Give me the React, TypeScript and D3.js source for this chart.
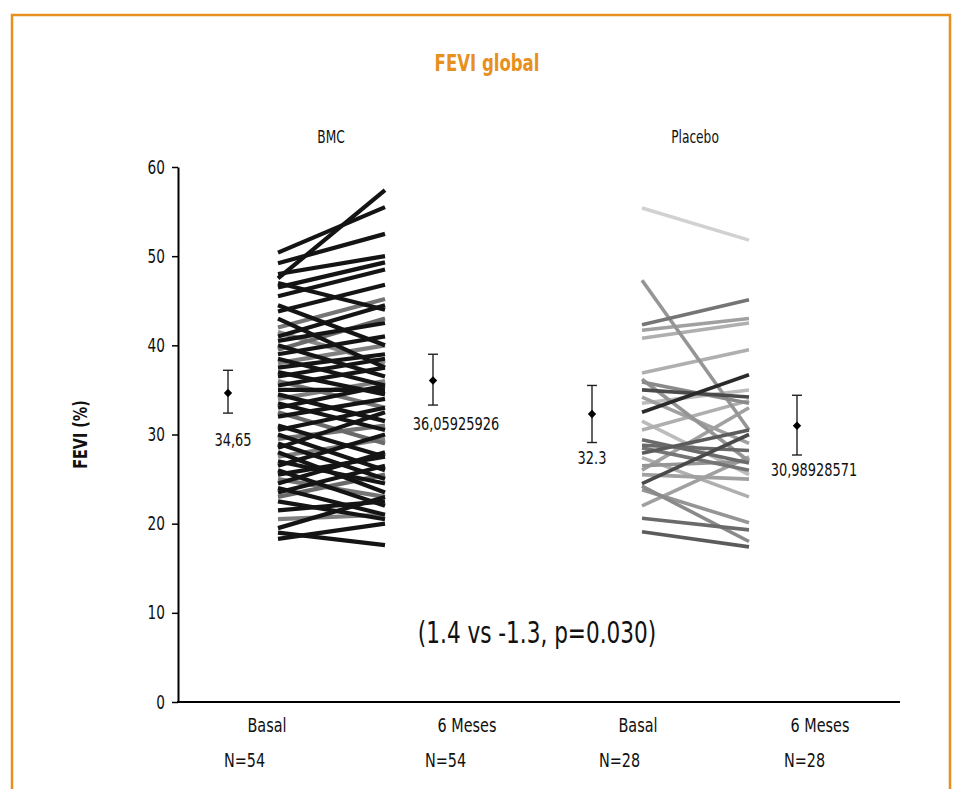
import React, { useEffect, useRef } from "react";
import * as d3 from "d3";

// FEVI (%) per patient, basal and at 6 months
const bmcBasal = [
  50.4, 47.5, 49.2, 48.0, 46.5, 47.0, 45.5, 44.5, 43.8, 43.0,
  42.0, 41.5, 41.0, 40.5, 40.0, 39.5, 39.0, 38.5, 38.0, 37.5,
  37.0, 36.5, 36.0, 35.5, 35.0, 34.5, 34.0, 33.5, 33.0, 32.5,
  32.0, 31.0, 30.5, 30.0, 29.5, 29.0, 28.5, 28.0, 27.5, 27.0,
  26.5, 26.0, 25.5, 25.0, 24.5, 24.0, 23.5, 23.0, 22.5, 21.5,
  20.5, 19.5, 19.0, 18.3,
];
const bmcSixMonths = [
  55.5, 57.4, 52.5, 50.0, 49.3, 44.0, 48.5, 40.0, 46.8, 37.5,
  45.2, 38.0, 44.5, 42.5, 36.5, 43.0, 41.0, 35.5, 40.0, 39.0,
  34.5, 38.5, 33.0, 37.5, 35.0, 31.5, 36.0, 30.5, 35.5, 29.0,
  34.0, 27.5, 33.0, 26.0, 31.0, 25.0, 32.5, 23.5, 29.5, 24.5,
  30.0, 22.0, 27.5, 23.0, 28.0, 21.0, 26.5, 25.5, 20.5, 22.5,
  21.0, 23.0, 17.6, 20.0,
];
const placeboBasal = [
  55.4, 47.3, 42.3, 41.7, 40.8, 36.9, 32.5, 35.9, 35.0, 34.2,
  36.2, 33.5, 30.5, 29.4, 27.9, 28.5, 27.4, 26.5, 25.5, 24.5,
  23.8, 24.2, 22.0, 20.6, 19.1, 31.5, 28.8, 26.0,
];
const placeboSixMonths = [
  51.8, 30.5, 45.1, 43.0, 42.5, 39.5, 36.7, 33.5, 34.2, 29.0,
  27.0, 35.0, 33.8, 26.8, 30.5, 26.0, 23.0, 27.0, 25.0, 30.0,
  20.1, 18.0, 27.5, 19.3, 17.4, 25.5, 28.2, 33.0,
];

// mean and error bar limits: [basal, 6 meses]
const bmcMeans = [34.65, 36.05925926];
const bmcUpper = [37.2, 39.0];
const bmcLower = [32.4, 33.3];
const bmcMeanLabels = ["34,65", "36,05925926"];
const placeboMeans = [32.3, 30.98928571];
const placeboUpper = [35.5, 34.4];
const placeboLower = [29.1, 27.7];
const placeboMeanLabels = ["32.3", "30,98928571"];

const groupNames = ["BMC", "Placebo"];
const timeLabels = ["Basal", "6 Meses"];
const nLabels = ["N=54", "N=54", "N=28", "N=28"];
const yTicks = [0, 10, 20, 30, 40, 50, 60];
const pValueText = "(1.4 vs -1.3, p=0.030)";

// grey level of each patient line (0 = black)
const bmcShades = [
  0, 0, 0, 0, 0, 0, 0, 0, 0, 0,
  0.45, 0.55, 0, 0, 0, 0.4, 0, 0, 0.5, 0,
  0, 0, 0.45, 0, 0, 0, 0.5, 0, 0, 0.4,
  0, 0, 0, 0, 0.45, 0, 0, 0, 0.5, 0,
  0, 0, 0, 0.45, 0, 0, 0, 0.4, 0, 0,
  0.5, 0, 0, 0,
];
const placeboShades = [
  0.88, 0.6, 0.45, 0.65, 0.72, 0.72, 0.1, 0.55, 0.25, 0.65,
  0.6, 0.78, 0.72, 0.4, 0.33, 0.45, 0.72, 0.6, 0.65, 0.25,
  0.6, 0.55, 0.65, 0.4, 0.33, 0.78, 0.4, 0.65,
];

const FONT = "'DejaVu Sans Condensed', 'Liberation Sans Narrow', sans-serif";
const ORANGE = "#e8901e";
const SQUEEZE = 0.8; // the original uses a condensed face

export default function App() {
  const ref = useRef<SVGSVGElement | null>(null);

  useEffect(() => {
    const svg = d3.select(ref.current);
    svg.selectAll("*").remove();

    const height = 789;
    const x0 = 178, x1 = 900;
    const y = d3.scaleLinear().domain([0, 60]).range([702, 167]);

    // narrow text: drawn at (x, y) then squeezed horizontally
    const label = (x: number, yy: number, str: string, size: number, anchor = "middle", rotate = 0) => {
      const t = svg.append("text")
        .attr("transform", "translate(" + x + "," + yy + ") rotate(" + rotate + ") scale(" + SQUEEZE + ",1)")
        .attr("text-anchor", anchor)
        .attr("font-family", FONT)
        .attr("font-size", size)
        .attr("fill", "#111")
        .text(str);
      return t;
    };

    // frame
    svg.append("rect")
      .attr("x", 12).attr("y", 15)
      .attr("width", 938).attr("height", height)
      .attr("fill", "none")
      .attr("stroke", ORANGE)
      .attr("stroke-width", 2.5);

    label(487, 71, "FEVI global", 23).attr("font-weight", "bold").attr("fill", ORANGE);

    // y axis
    const axis = svg.append("g")
      .attr("transform", "translate(" + x0 + ",0)")
      .call(d3.axisLeft(y).tickValues(yTicks).tickSize(6).tickSizeOuter(0).tickPadding(7).tickFormat(d3.format("d")));
    axis.select(".domain").attr("stroke", "#000").attr("stroke-width", 2);
    axis.selectAll(".tick line").attr("stroke", "#000").attr("stroke-width", 1.5);
    axis.selectAll(".tick text").remove();
    yTicks.forEach(v => label(x0 - 13, y(v) + 6.5, String(v), 19, "end"));

    svg.append("line")
      .attr("x1", x0 - 1).attr("x2", x1)
      .attr("y1", y(0)).attr("y2", y(0))
      .attr("stroke", "#000").attr("stroke-width", 2);

    label(87, y(30), "FEVI (%)", 20, "middle", -90).attr("font-weight", "bold");

    const groups = [
      { name: groupNames[0], center: 331, basal: bmcBasal, six: bmcSixMonths, shades: bmcShades, width: 4.2,
        means: bmcMeans, upper: bmcUpper, lower: bmcLower, labels: bmcMeanLabels,
        labelDx: [5, 23], labelDy: [53, 50], tickX: [267, 467], nX: [224, 425] },
      { name: groupNames[1], center: 695, basal: placeboBasal, six: placeboSixMonths, shades: placeboShades, width: 3.6,
        means: placeboMeans, upper: placeboUpper, lower: placeboLower, labels: placeboMeanLabels,
        labelDx: [0, 17], labelDy: [50, 50], tickX: [638, 820], nX: [599, 784] },
    ];

    const line = d3.line<[number, number]>()
      .x(d => d[0])
      .y(d => d[1]);

    groups.forEach((g, gi) => {
      const xL = g.center - 53, xR = g.center + 54;
      const errX = [g.center - 103, g.center + 102];

      label(g.center, 143, g.name, 17);

      // patient lines, lightest first so dark ones end on top
      const order = d3.range(g.basal.length).sort((a, b) => g.shades[b] - g.shades[a]);
      order.forEach(i => {
        const grey = Math.round(20 + g.shades[i] * 215);
        svg.append("path")
          .datum([[xL, y(g.basal[i])], [xR, y(g.six[i])]] as [number, number][])
          .attr("fill", "none")
          .attr("stroke", d3.rgb(grey, grey, grey).toString())
          .attr("stroke-width", g.width)
          .attr("stroke-linecap", "butt")
          .attr("d", line);
      });

      // means with error bars
      g.means.forEach((m, k) => {
        const cx = errX[k];
        const eb = svg.append("g").attr("stroke", "#222").attr("stroke-width", 1.4);
        eb.append("line").attr("x1", cx).attr("x2", cx).attr("y1", y(g.upper[k])).attr("y2", y(g.lower[k]));
        eb.append("line").attr("x1", cx - 5).attr("x2", cx + 5).attr("y1", y(g.upper[k])).attr("y2", y(g.upper[k]));
        eb.append("line").attr("x1", cx - 5).attr("x2", cx + 5).attr("y1", y(g.lower[k])).attr("y2", y(g.lower[k]));
        svg.append("path")
          .attr("transform", "translate(" + cx + "," + y(m) + ")")
          .attr("d", d3.symbol(d3.symbolDiamond2, 45)())
          .attr("fill", "#000");
        label(cx + g.labelDx[k], y(m) + g.labelDy[k], g.labels[k], 18);
      });

      // x labels
      timeLabels.forEach((t, k) => {
        label(g.tickX[k], 732, t, 20);
        label(g.nX[k], 767, nLabels[gi * 2 + k], 20, "start");
      });
    });

    label(537, 643, pValueText, 30);
  }, []);

  return (
    <svg ref={ref} width={963} height={789}
      style={{ position: "absolute", left: 0, top: 0, background: "#fff" }} />
  );
}
